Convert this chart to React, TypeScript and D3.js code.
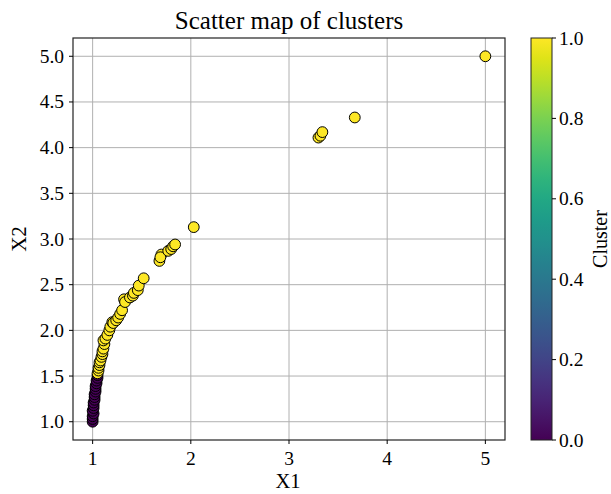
import React from "react";
import * as d3 from "d3";

const x1Values = [
  1.0, 1.0, 1.0, 1.01, 1.0, 1.01, 1.01, 1.01, 1.02, 1.02, 1.02, 1.03, 1.03, 1.03, 1.04, 1.04, 1.05, 1.05,
  1.05, 1.06, 1.06, 1.07, 1.07, 1.08, 1.09, 1.1, 1.1, 1.11, 1.12, 1.11, 1.13, 1.15, 1.17, 1.18, 1.2, 1.21,
  1.24, 1.26, 1.28, 1.3, 1.32, 1.33, 1.38, 1.41, 1.42, 1.46, 1.47, 1.52, 1.68, 1.7, 1.69, 1.77, 1.8, 1.82,
  1.84, 2.03, 3.3, 3.32, 3.34, 3.67, 5.0,
];
const x2Values = [
  1.0, 1.03, 1.06, 1.09, 1.12, 1.15, 1.18, 1.21, 1.24, 1.27, 1.3, 1.33, 1.36, 1.39, 1.42, 1.45, 1.48, 1.51,
  1.53, 1.56, 1.59, 1.62, 1.65, 1.67, 1.71, 1.74, 1.77, 1.8, 1.85, 1.89, 1.91, 1.95, 2.0, 2.04, 2.09, 2.08,
  2.11, 2.14, 2.18, 2.22, 2.34, 2.31, 2.36, 2.38, 2.41, 2.44, 2.49, 2.57, 2.76, 2.83, 2.8, 2.87, 2.89, 2.92,
  2.94, 3.13, 4.11, 4.13, 4.17, 4.33, 5.0,
];
const clusterValues = [
  0, 0, 0, 0, 0, 0, 0, 0, 0, 0, 0, 0, 0, 0, 0, 0, 0, 0,
  1, 1, 1, 1, 1, 1, 1, 1, 1, 1, 1, 1, 1, 1, 1, 1, 1, 1,
  1, 1, 1, 1, 1, 1, 1, 1, 1, 1, 1, 1, 1, 1, 1, 1, 1, 1,
  1, 1, 1, 1, 1, 1, 1,
];
const xTicks = [1, 2, 3, 4, 5];
const yTicks = [1.0, 1.5, 2.0, 2.5, 3.0, 3.5, 4.0, 4.5, 5.0];
const cbTicks = [0.0, 0.2, 0.4, 0.6, 0.8, 1.0];

const FONT = "'Liberation Serif', 'Times New Roman', serif";
const TICK_FS = 19.5;

export default function App() {
  const left = 73, right = 505, top = 38, bottom = 440;
  const x = d3.scaleLinear().domain([0.8, 5.2]).range([left, right]);
  const y = d3.scaleLinear().domain([0.8, 5.2]).range([bottom, top]);
  const cbX = 531, cbW = 21;
  const cb = d3.scaleLinear().domain([0, 1]).range([bottom, top]);
  const stops = d3.range(0, 1.0001, 0.05);
  const pts = x1Values.map((v, i) => ({ x: v, y: x2Values[i], c: clusterValues[i] }));

  return (
    <svg width={611} height={494} style={{ position: "absolute", left: 0, top: 0, background: "#fff" }}>
      <defs>
        <linearGradient id="vir" x1="0" y1="1" x2="0" y2="0">
          {stops.map((s) => (
            <stop key={s} offset={`${s * 100}%`} stopColor={d3.interpolateViridis(s)} />
          ))}
        </linearGradient>
        <clipPath id="plotclip">
          <rect x={left} y={top} width={right - left} height={bottom - top} />
        </clipPath>
      </defs>
      <rect width={611} height={494} fill="#fff" />
      <text x={289} y={29} textAnchor="middle" fontFamily={FONT} fontSize={25} fill="#000">
        Scatter map of clusters
      </text>
      {xTicks.map((t) => (
        <line key={"gx" + t} x1={x(t)} x2={x(t)} y1={top} y2={bottom} stroke="#b0b0b0" strokeWidth={1} />
      ))}
      {yTicks.map((t) => (
        <line key={"gy" + t} x1={left} x2={right} y1={y(t)} y2={y(t)} stroke="#b0b0b0" strokeWidth={1} />
      ))}
      <g clipPath="url(#plotclip)">
        {pts.map((p, i) => (
          <circle
            key={i}
            cx={x(p.x)}
            cy={y(p.y)}
            r={5.4}
            fill={d3.interpolateViridis(p.c)}
            stroke="#000"
            strokeWidth={1}
          />
        ))}
      </g>
      <rect x={left} y={top} width={right - left} height={bottom - top} fill="none" stroke="#222" strokeWidth={1.2} />
      {xTicks.map((t) => (
        <g key={"tx" + t}>
          <line x1={x(t)} x2={x(t)} y1={bottom} y2={bottom + 4} stroke="#000" />
          <text x={x(t)} y={465} textAnchor="middle" fontFamily={FONT} fontSize={TICK_FS} fill="#000">
            {t}
          </text>
        </g>
      ))}
      {yTicks.map((t) => (
        <g key={"ty" + t}>
          <line x1={left - 4} x2={left} y1={y(t)} y2={y(t)} stroke="#000" />
          <text x={left - 9} y={y(t) + 6.5} textAnchor="end" fontFamily={FONT} fontSize={TICK_FS} fill="#000">
            {t.toFixed(1)}
          </text>
        </g>
      ))}
      <text x={288} y={488} textAnchor="middle" fontFamily={FONT} fontSize={20.5} fill="#000">
        X1
      </text>
      <text
        transform={`translate(26, ${(top + bottom) / 2}) rotate(-90)`}
        textAnchor="middle"
        fontFamily={FONT}
        fontSize={21}
        fill="#000"
      >
        X2
      </text>
      <rect x={cbX} y={top} width={cbW} height={bottom - top} fill="url(#vir)" stroke="#222" strokeWidth={1} />
      {cbTicks.map((t) => (
        <g key={"cb" + t}>
          <line x1={cbX + cbW} x2={cbX + cbW + 4} y1={cb(t)} y2={cb(t)} stroke="#000" />
          <text x={cbX + cbW + 7} y={cb(t) + 6.5} textAnchor="start" fontFamily={FONT} fontSize={TICK_FS} fill="#000">
            {t.toFixed(1)}
          </text>
        </g>
      ))}
      <text
        transform={`translate(607, ${(top + bottom) / 2}) rotate(-90)`}
        textAnchor="middle"
        fontFamily={FONT}
        fontSize={20}
        fill="#000"
      >
        Cluster
      </text>
    </svg>
  );
}
